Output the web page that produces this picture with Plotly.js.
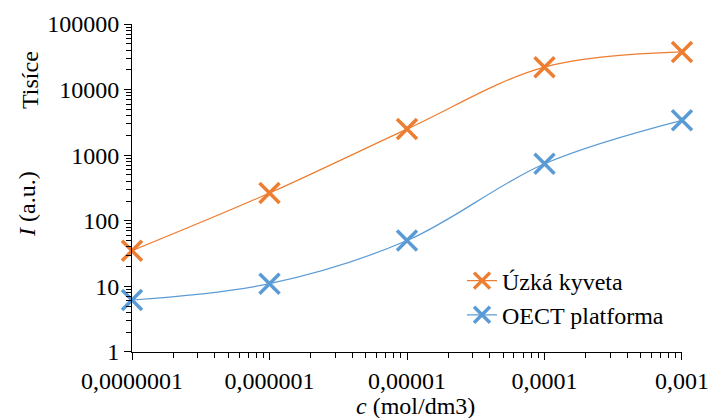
<!DOCTYPE html>
<html>
<head>
<meta charset="utf-8">
<script src="https://cdn.plot.ly/plotly-3.0.1.min.js"></script>
<style>
  html, body { margin: 0; padding: 0; background: #fff; }
  #chart { width: 711px; height: 418px; }
  #chart svg text { font-family: 'Liberation Serif', 'DejaVu Serif', serif !important; }
</style>
</head>
<body>
<div id="chart"></div>
<script>
// Concentration (mol/dm3) and measured intensity (a.u., thousands)
const concentration = [1e-7, 1e-6, 1e-5, 1e-4, 1e-3];
const uzkaKyveta = [35, 265, 2500, 22000, 37500];
const oectPlatforma = [6.2, 11, 50, 740, 3400];

const xTickVals = [1e-7, 1e-6, 1e-5, 1e-4, 1e-3];
const xTickText = ['0,0000001', '0,000001', '0,00001', '0,0001', '0,001'];
const yTickVals = [1, 10, 100, 1000, 10000, 100000];
const yTickText = ['1', '10', '100', '1000', '10000', '100000'];

const serif = 'Liberation Serif';
const xRange = [-7.0001, -2.9999];
const yRange = [-0.0001, 5.0001];

// minor log ticks at 2..9 within each decade
function minorTicks(major) {
  const out = [];
  for (let i = 0; i < major.length - 1; i++) {
    for (let k = 2; k <= 9; k++) out.push(major[i] * k);
  }
  return out;
}

const traces = [
  {
    x: concentration, y: uzkaKyveta, name: 'Úzká kyveta',
    mode: 'lines+markers', type: 'scatter', cliponaxis: false,
    line: { color: '#ED7D31', width: 1.2, shape: 'spline', smoothing: 1 },
    marker: { symbol: 'x-thin', size: 20, line: { color: '#ED7D31', width: 3.5 } }
  },
  {
    x: concentration, y: oectPlatforma, name: 'OECT platforma',
    mode: 'lines+markers', type: 'scatter', cliponaxis: false,
    line: { color: '#5B9BD5', width: 1.2, shape: 'spline', smoothing: 1 },
    marker: { symbol: 'x-thin', size: 20, line: { color: '#5B9BD5', width: 3.5 } }
  },
  // draws nothing; keeps the minor-tick companion axes active
  {
    x: concentration, y: uzkaKyveta, xaxis: 'x2', yaxis: 'y2',
    mode: 'none', type: 'scatter', showlegend: false, hoverinfo: 'skip'
  }
];

function axis(range, vals, text) {
  return {
    type: 'log', range: range, showgrid: false, zeroline: false,
    showline: true, linecolor: '#000', linewidth: 1,
    ticks: 'outside', ticklen: 7, tickcolor: '#000', tickwidth: 1,
    tickfont: { family: serif, size: 24, color: '#000' },
    tickmode: 'array', tickvals: vals, ticktext: text
  };
}

// unlabeled companion axes carrying the minor log ticks
function minorAxis(range, vals, extra) {
  return Object.assign({
    type: 'log', range: range, showgrid: false, zeroline: false, showline: false,
    ticks: 'outside', ticklen: 5, tickcolor: '#000', tickwidth: 1,
    showticklabels: false, tickmode: 'array', tickvals: minorTicks(vals)
  }, extra);
}

const layout = {
  width: 711, height: 418,
  margin: { l: 132, r: 29, t: 24, b: 66 },
  paper_bgcolor: '#fff', plot_bgcolor: '#fff',
  font: { family: serif, size: 24, color: '#000' },
  showlegend: true,
  legend: {
    x: 0.6, y: 0.285, xanchor: 'left', yanchor: 'top',
    bgcolor: 'rgba(0,0,0,0)',
    font: { family: serif, size: 24, color: '#000' }
  },
  xaxis: axis(xRange, xTickVals, xTickText),
  yaxis: axis(yRange, yTickVals, yTickText),
  xaxis2: minorAxis(xRange, xTickVals, { overlaying: 'x', side: 'bottom', anchor: 'y2' }),
  yaxis2: minorAxis(yRange, yTickVals, { overlaying: 'y', side: 'left', anchor: 'x2' }),
  annotations: [
    {
      text: '<i>c</i> (mol/dm3)', xref: 'paper', yref: 'paper',
      x: 0.515, y: -0.165, xanchor: 'center', yanchor: 'middle',
      showarrow: false, font: { family: serif, size: 24, color: '#000' }
    },
    {
      text: '<i>I</i> (a.u.)', xref: 'paper', yref: 'paper',
      x: -0.19, y: 0.45, xanchor: 'center', yanchor: 'middle', textangle: -90,
      showarrow: false, font: { family: serif, size: 24, color: '#000' }
    },
    {
      text: 'Tisíce', xref: 'paper', yref: 'paper',
      x: -0.185, y: 0.83, xanchor: 'center', yanchor: 'middle', textangle: -90,
      showarrow: false, font: { family: serif, size: 24, color: '#000' }
    }
  ]
};

Plotly.newPlot('chart', traces, layout, { displayModeBar: false, staticPlot: true });
</script>
</body>
</html>
